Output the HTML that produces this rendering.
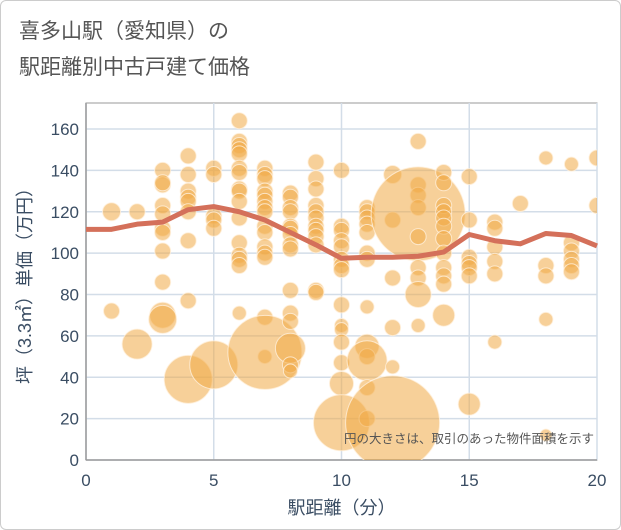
<!DOCTYPE html>
<html><head><meta charset="utf-8"><style>
body{margin:0;background:#fff;}
#wrap{position:relative;width:619px;height:528px;border:1px solid #ccc;border-radius:6px;overflow:hidden;font-family:"Liberation Sans","Noto Sans CJK JP",sans-serif;}
.title{position:absolute;left:18px;font-size:21px;color:#555;}
</style></head><body>
<div id="wrap">
<div class="title" style="top:14px">喜多山駅（愛知県）の</div>
<div class="title" style="top:50px">駅距離別中古戸建て価格</div>
<svg id="chart" width="621" height="530" style="position:absolute;left:-1px;top:-1px"></svg>
</div>
<script>
const xTicks=[0,5,10,15,20];
const yTicks=[0,20,40,60,80,100,120,140,160];
const bubbleX=[1,1,2,2,3,3,3,3,3,3,3,3,3,3,3,4,4,4,4,4,4,4,4,4,5,5,5,5,5,5,6,6,6,6,6,6,6,6,6,6,6,6,6,6,6,6,7,7,7,7,7,7,7,7,7,7,7,7,7,7,7,7,8,8,8,8,8,8,8,8,8,8,8,8,8,8,8,9,9,9,9,9,9,9,9,9,9,9,9,10,10,10,10,10,10,10,10,10,10,10,10,10,10,10,11,11,11,11,11,11,11,11,11,11,11,11,11,12,12,12,12,12,12,13,13,13,13,13,13,13,13,13,13,14,14,14,14,14,14,14,14,14,14,14,14,15,15,15,15,15,15,15,16,16,16,16,16,16,17,18,18,18,18,18,19,19,19,19,19,19,20,20];
const bubbleY=[120,72,120,56,140,133,134,123,119,112,110,101,86,70,68,147,138,130,127,125,120,106,77,39,141,138,118,116,112,46,164,154,152,150,148,141,139,131,130,125,117,105,99,97,94,71,141,138,136,130,128,125,122,120,113,110,103,100,98,69,50,52,129,127,122,120,113,112,109,104,102,82,71,67,54,46,43,144,136,131,123,120,117,113,111,108,104,82,81,140,113,111,106,103,97,94,92,75,65,63,57,47,37,18,122,120,117,114,110,100,97,74,55,50,48,35,20,138,116,88,64,45,18,154,133,128,122,119,108,93,88,80,65,139,134,123,120,117,113,107,100,93,89,85,70,137,116,98,95,93,89,27,115,112,103,96,90,57,124,146,94,89,68,12,143,105,101,97,94,91,146,123];
const bubbleR=[9,8,8,15,8,8,8,8,8,8,8,8,8,13,14,8,8,8,8,8,8,8,8,24,8,8,8,8,8,24,8,8,8,8,8,8,8,8,8,8,8,8,8,8,8,7,8,8,8,8,8,8,8,8,8,8,8,8,8,8,7,37,8,8,8,8,8,8,8,8,8,8,8,8,15,8,7,8,8,8,8,8,8,8,8,8,8,8,8,8,8,8,8,8,8,8,8,8,7,7,8,8,12,28,8,8,8,8,8,8,8,7,12,8,20,8,8,9,8,8,8,7,47,8,8,8,8,47,8,8,8,13,7,8,8,8,8,8,8,8,8,8,8,8,11,8,8,8,8,8,8,11,8,8,8,8,8,7,8,7,8,8,7,6,7,8,8,8,8,8,8,8];
const lineX=[0,1,2,3,4,5,6,7,8,9,10,11,12,13,14,15,16,17,18,19,20];
const lineY=[111.5,111.5,114,115,121,122.5,120,116,110,104,97.5,98,98,98.5,100.5,109,106,104.5,109.5,108.5,103.5];
const L=86,R=597,T=103,B=460;
const sx=v=>L+(v-0)/20*(R-L);
const sy=v=>B-v/160*(B-129);
const NS='http://www.w3.org/2000/svg';
const svg=document.getElementById('chart');
function mk(t,a){const e=document.createElementNS(NS,t);for(const k in a)e.setAttribute(k,a[k]);svg.appendChild(e);return e;}
let e=mk('rect',{x:L,y:T,width:R-L,height:B-T,fill:'#fff',stroke:'#999','stroke-width':1});


yTicks.forEach(v=>{
 let g=mk('line',{x1:L,x2:R,y1:sy(v),y2:sy(v),stroke:'#d3dde8','stroke-width':1.5});
 
 
 let t=mk('text',{x:L-7,y:sy(v)+6,'text-anchor':'end','font-size':17,fill:'#3a4d63'});
 t.textContent=v;
 
 
});
xTicks.forEach(v=>{
 let g=mk('line',{x1:sx(v),x2:sx(v),y1:T,y2:B,stroke:'#d3dde8','stroke-width':1.5});
 
 
 let t=mk('text',{x:sx(v),y:B+26,'text-anchor':'middle','font-size':17,fill:'#3a4d63'});
 t.textContent=v;
 
 
});
mk('line',{x1:L,x2:R,y1:B,y2:B,stroke:'#999','stroke-width':1.5});
mk('line',{x1:L,x2:L,y1:T,y2:B,stroke:'#999','stroke-width':1.5});
const gB=mk('g',{'clip-path':'url(#clp)'});
const cp=mk('clipPath',{id:'clp'});mk('rect',{x:L,y:T,width:R-L,height:B-T}).remove();
const cr=document.createElementNS(NS,'rect');cr.setAttribute('x',L);cr.setAttribute('y',T);cr.setAttribute('width',R-L);cr.setAttribute('height',B-T);cp.appendChild(cr);
bubbleX.forEach((x,i)=>{
 const c=document.createElementNS(NS,'circle');
 c.setAttribute('cx',sx(x));c.setAttribute('cy',sy(bubbleY[i]));c.setAttribute('r',bubbleR[i]);
 c.setAttribute('fill','rgba(240,170,70,0.55)');c.setAttribute('stroke','rgba(255,240,220,0.8)');c.setAttribute('stroke-width','1');
 
 
 gB.appendChild(c);
});
svg.appendChild(gB);
let p=mk('polyline',{points:lineX.map((x,i)=>sx(x)+','+sy(lineY[i])).join(' '),fill:'none',stroke:'#d4705a','stroke-width':5,'stroke-linejoin':'round'});


let n=mk('text',{x:R-3,y:B-17,'text-anchor':'end','font-size':12.5,fill:'#555'});
n.textContent='円の大きさは、取引のあった物件面積を示す';


let xt=mk('text',{x:(L+R)/2,y:514,'text-anchor':'middle','font-size':18,fill:'#3a4d63'});
xt.textContent='駅距離（分）';


let yt=mk('text',{x:0,y:0,'text-anchor':'middle','font-size':18,fill:'#3a4d63',transform:'translate(31,'+((T+B)/2)+') rotate(-90)'});
yt.textContent='坪（3.3㎡）単価（万円）';


</script>
</body></html>
